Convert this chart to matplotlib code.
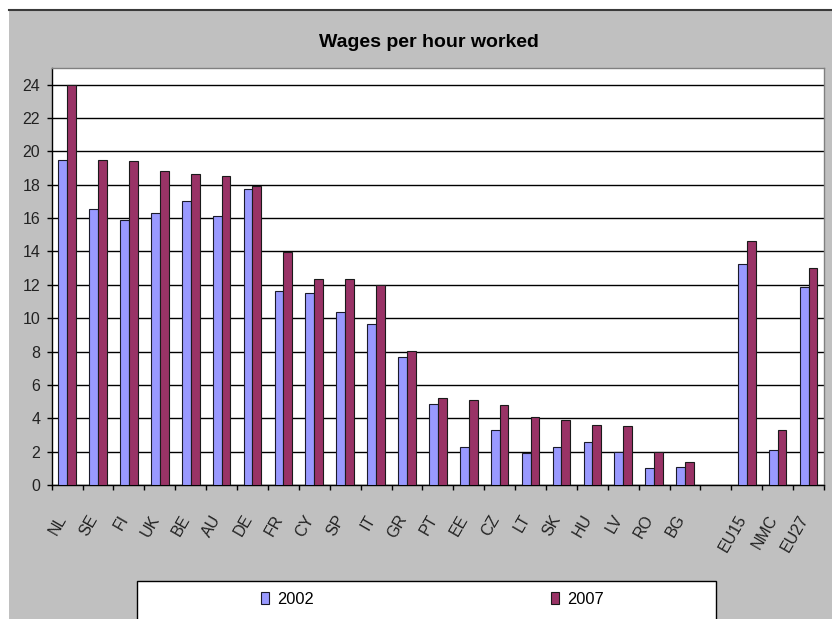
import numpy as np
import matplotlib
matplotlib.use("Agg")
import matplotlib.pyplot as plt
from matplotlib import font_manager
from matplotlib.patches import Rectangle
from matplotlib.lines import Line2D
import matplotlib.transforms as mtransforms

# ---------------- data ----------------
categories = ['NL', 'SE', 'FI', 'UK', 'BE', 'AU', 'DE', 'FR', 'CY', 'SP', 'IT',
              'GR', 'PT', 'EE', 'CZ', 'LT', 'SK', 'HU', 'LV', 'RO', 'BG',
              'EU15', 'NMC', 'EU27']
v2002 = [19.5, 16.55, 15.9, 16.3, 17.05, 16.15, 17.75, 11.65, 11.5, 10.4, 9.65,
         7.65, 4.85, 2.25, 3.3, 1.9, 2.25, 2.55, 2.0, 1.0, 1.1,
         13.25, 2.1, 11.85]
v2007 = [24.0, 19.5, 19.4, 18.8, 18.65, 18.5, 17.95, 13.95, 12.35, 12.35, 12.0,
         8.05, 5.2, 5.1, 4.8, 4.1, 3.9, 3.6, 3.55, 2.0, 1.35,
         14.6, 3.3, 13.0]
series_labels = ['2002', '2007']
yticks = list(range(0, 25, 2))
title = 'Wages per hour worked'

# ---------------- fonts ----------------
names = {f.name for f in font_manager.fontManager.ttflist}
if 'Liberation Sans Narrow' in names:
    FAM = ['Liberation Sans Narrow', 'DejaVu Sans']
    TICK_FS, LEG_FS, TITLE_FS = 12.6, 12.9, 15.8
else:
    FAM = ['Liberation Sans', 'DejaVu Sans']
    TICK_FS, LEG_FS, TITLE_FS = 11.5, 11.8, 14.0
plt.rcParams['font.family'] = FAM

W, H = 832, 619
fig = plt.figure(figsize=(W / 100, H / 100), dpi=100)
fig.patch.set_facecolor('white')

# grey chart area + top rule
fig.add_artist(Rectangle((9 / W, 0), 1 - 9 / W, 1 - 10 / H, transform=fig.transFigure,
                         facecolor='#C0C0C0', edgecolor='none', zorder=-10))
fig.add_artist(Line2D([9 / W, 1], [1 - 10 / H, 1 - 10 / H], transform=fig.transFigure,
                      color='#3a3a3a', lw=1.5, zorder=-9))

# plot area
x0, x1, ytop, ybot = 51.7, 824.0, 68.0, 485.0
ax = fig.add_axes([x0 / W, 1 - ybot / H, (x1 - x0) / W, (ybot - ytop) / H])
ax.set_facecolor('white')

n_countries = 21
pos = np.array(list(range(n_countries)) + [n_countries + 1 + i for i in range(3)], dtype=float)
bw = 0.285
c2002, c2007 = '#9999FF', '#993366'
b1 = ax.bar(pos - bw / 2, v2002, width=bw, color=c2002, edgecolor='#1a1a2a', linewidth=0.8,
            label=series_labels[0], zorder=3)
b2 = ax.bar(pos + bw / 2, v2007, width=bw, color=c2007, edgecolor='#1a1a1a', linewidth=0.8,
            label=series_labels[1], zorder=3)

ax.set_xlim(-0.5, pos[-1] + 0.5)
ax.set_ylim(0, 25)
ax.set_axisbelow(True)
ax.yaxis.grid(True, color='black', lw=1.0)
ax.xaxis.grid(False)

ax.set_yticks(yticks)
ax.set_yticklabels([str(t) for t in yticks])
ax.tick_params(axis='y', direction='out', length=5 * 0.72, width=1, color='black',
               pad=6.5 * 0.72, labelsize=TICK_FS, labelcolor='#222222')

ax.set_xticks(pos)
ax.set_xticklabels(categories)
ax.set_xticks(np.arange(-0.5, pos[-1] + 1.0, 1.0), minor=True)
ax.tick_params(axis='x', which='major', length=0, pad=31 * 0.72, labelsize=TICK_FS,
               labelcolor='#222222')
ax.tick_params(axis='x', which='minor', direction='out', length=5 * 0.72, width=1,
               color='black')
shift = mtransforms.ScaledTranslation(-4 / 100, 0, fig.dpi_scale_trans)
for lab in ax.get_xticklabels():
    lab.set_rotation(60)
    lab.set_ha('right')
    lab.set_va('center')
    lab.set_rotation_mode('anchor')
    lab.set_transform(lab.get_transform() + shift)

for s in ['left', 'bottom']:
    ax.spines[s].set_color('black')
    ax.spines[s].set_linewidth(1)
for s in ['top', 'right']:
    ax.spines[s].set_color('#808080')
    ax.spines[s].set_linewidth(1)

# title
fig.text(429 / W, 1 - 47 / H, title, ha='center', va='baseline',
         fontsize=TITLE_FS, fontweight='bold', color='black')

# legend box
fig.add_artist(Rectangle((137 / W, -0.02), (716 - 137) / W, 0.02 + 1 - 581 / H,
                         transform=fig.transFigure, facecolor='white',
                         edgecolor='black', lw=1.0, zorder=5))
em = LEG_FS * 100 / 72
for handle, lab, xl in [(b1, series_labels[0], 261), (b2, series_labels[1], 551)]:
    lg = fig.legend([handle], [lab], loc='center left', bbox_to_anchor=(xl / W, 1 - 599 / H),
                    frameon=False, borderpad=0, borderaxespad=0, fontsize=LEG_FS,
                    handlelength=8 / em, handleheight=13 / em, handletextpad=8 / em)
    lg.set_zorder(6)

fig.savefig('out.png', dpi=100, facecolor=fig.get_facecolor())
